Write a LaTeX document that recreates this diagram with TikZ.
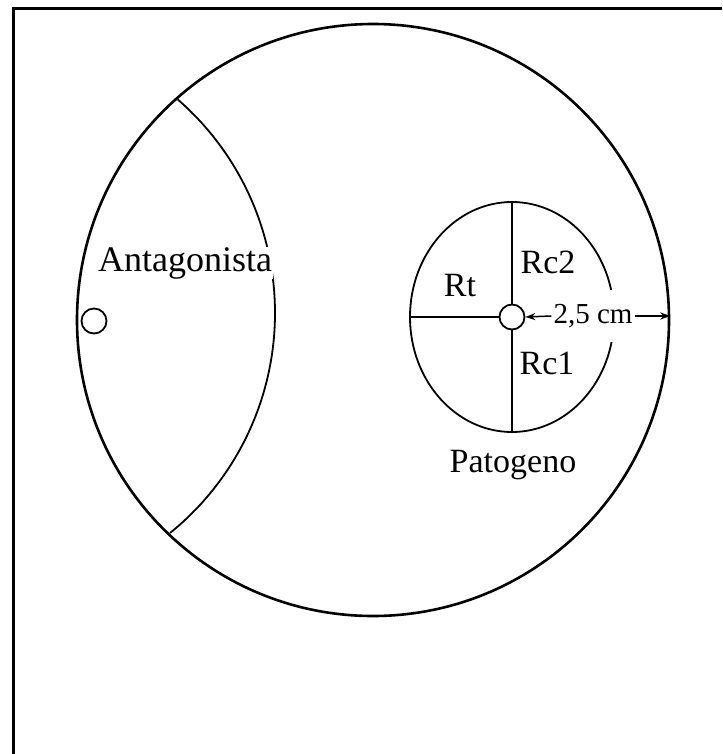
\documentclass[tikz,border=0pt]{standalone}
\usepackage{fontspec}
\setmainfont{Liberation Serif}
\usetikzlibrary{arrows.meta,shapes.geometric}
\tikzset{
  plate/.style={draw, circle, line width=2.6pt, minimum size=592pt, inner sep=0pt},
  colony/.style={draw, ellipse, line width=1.8pt, minimum width=204pt, minimum height=230pt, inner sep=0pt},
  well/.style={draw, circle, line width=1.8pt, minimum size=25pt, inner sep=0pt, fill=white},
  radius line/.style={line width=1.8pt},
  front/.style={line width=1.8pt},
  lbl/.style={font=\fontsize{34}{40}\selectfont, inner sep=1pt},
  lblw/.style={lbl, fill=white},
  dimlbl/.style={font=\fontsize{29}{34}\selectfont, fill=white, inner sep=2pt, minimum height=52pt},
  dimarrow/.style={-{Stealth[length=10pt, width=7pt]}, line width=1.5pt},
  frame/.style={line width=3pt},
}

\begin{document}
\begin{tikzpicture}[x=1pt, y=-1pt]
    \useasboundingbox (0,0) rectangle (722,754);
    \draw[frame] (13,754) -- (13,9) -- (722,9);
    \node[plate] (plate) at (373,320) {};
    \draw[front] ([shift={(-49:283)}]-8,313) arc[start angle=-49, end angle=51, radius=283];
    \node[lblw, font=\fontsize{36}{42}\selectfont, inner ysep=0pt] (antag) at (185,263) {Antagonista};
    \node[well] (awell) at (94,321) {};
    \node[colony] (colony) at (512,317) {};
    \node[well] (pwell) at (512,317) {};
    \draw[radius line] (colony.north) -- (pwell.north);
    \draw[radius line] (colony.south) -- (pwell.south);
    \draw[radius line] (colony.west) -- (pwell.west);
    \node[dimlbl] (gap) at (593,316) {2,5 cm};
    \coordinate (rim) at (gap.east -| plate.east);
    \draw[dimarrow] (gap.west) -- (pwell.east);
    \draw[dimarrow] (gap.east) -- (rim);
    \node[lbl] (rt) at (460,286) {Rt};
    \node[lbl] (rc2) at (548,262) {Rc2};
    \node[lbl] (rc1) at (547,363) {Rc1};
    \node[lbl] (pat) at (513,465) {Patogeno};
  \end{tikzpicture}
\end{document}
